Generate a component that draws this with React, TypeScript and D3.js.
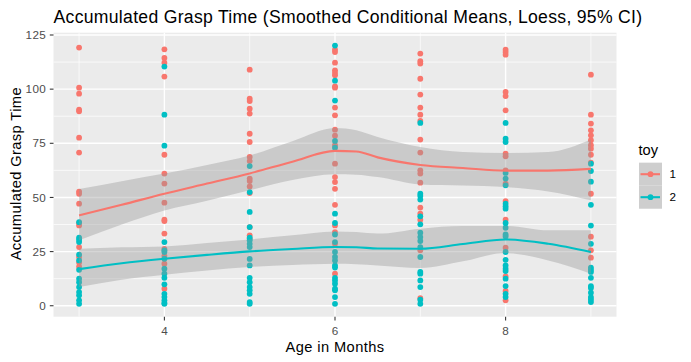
import React, { useRef, useEffect } from "react";
import * as d3 from "d3";

// ages on the x axis
const ageMonths = [3, 4, 5, 6, 7, 8, 9];

// accumulated grasp time per age, toy 1
const toy1Values: number[][] = [
  [119.2, 100.7, 97.9, 90.5, 89.8, 77.6, 70.7, 52.7, 51.7, 47.1, 38.2, 37.1, 27.1, 22.5, 20.0, 18.0],
  [118.4, 114.4, 112.2, 105.8, 69.7, 61.0, 56.4, 47.6, 39.7, 39.1, 33.3, 26.3, 23.0, 19.4, 7.9],
  [109.0, 95.6, 94.5, 91.0, 88.7, 79.4, 75.6, 68.7, 66.8, 58.7, 57.6, 55.1, 52.0, 36.3, 32.5, 31.0],
  [118.2, 117.1, 112.2, 108.7, 107.5, 106.4, 101.3, 100.7, 91.5, 87.9, 81.3, 78.5, 74.1, 65.6, 59.4, 57.1, 54.0, 46.6, 37.1, 34.0, 28.6, 14.8],
  [116.4, 112.9, 111.8, 104.8, 97.5, 91.5, 88.2, 85.3, 76.7, 70.7, 62.5, 61.0, 56.8, 45.3, 42.5, 39.7, 25.6, 3.5],
  [118.2, 117.1, 115.9, 98.7, 96.8, 90.2, 70.2, 69.0, 62.5, 56.4, 48.3, 39.7, 26.8, 13.5, 6.8, 2.5],
  [106.7, 88.2, 84.1, 81.0, 78.7, 76.4, 74.1, 72.5, 69.7, 66.1, 51.7, 31.9, 25.6, 22.2],
];

// accumulated grasp time per age, toy 2
const toy2Values: number[][] = [
  [38.6, 31.4, 30.5, 29.4, 23.6, 20.9, 16.6, 12.5, 10.9, 8.6, 6.3, 4.8, 2.5, 0.9],
  [110.4, 88.2, 73.9, 29.4, 25.6, 24.8, 21.7, 17.1, 14.8, 12.9, 9.9, 5.5, 4.0, 2.5, 1.3, 0.9],
  [64.5, 52.5, 43.3, 36.3, 31.4, 30.2, 28.6, 27.1, 21.6, 18.6, 12.9, 10.9, 8.6, 7.1, 5.5, 1.7, 0.9],
  [120.1, 103.9, 94.7, 76.1, 73.0, 42.5, 38.2, 32.9, 29.4, 24.8, 22.5, 20.9, 18.6, 17.6, 12.9, 11.7, 10.2, 7.9, 7.1, 4.0, 0.9],
  [84.4, 51.7, 50.7, 49.0, 41.3, 37.6, 33.7, 31.7, 29.9, 27.1, 22.5, 15.6, 14.8, 11.7, 8.6, 2.8, 0.9],
  [84.4, 77.1, 75.6, 61.3, 58.7, 55.6, 47.1, 45.9, 44.8, 38.2, 36.0, 32.9, 32.0, 24.8, 21.2, 18.6, 17.1, 16.0, 12.5, 9.1, 5.5, 4.0],
  [65.6, 62.2, 57.3, 46.6, 37.0, 28.6, 17.6, 16.6, 15.6, 12.9, 9.1, 8.2, 6.0, 4.0, 2.9, 1.7],
];

// loess fit and 95% band
const smoothAges = [3, 3.5, 4, 4.5, 5, 5.5, 6, 6.25, 6.5, 7, 7.5, 8, 8.5, 9];
const toy1Fit = [41.7, 46.6, 51.7, 56.4, 61.1, 66.5, 71.5, 71.2, 68.5, 65.0, 63.6, 62.4, 62.4, 63.2];
const toy1Lower = [30.2, 37.5, 44.0, 48.5, 53.3, 58.0, 60.7, 60.5, 59.4, 56.0, 55.5, 54.8, 52.8, 48.7];
const toy1Upper = [53.9, 57.5, 61.0, 65.0, 69.4, 76.0, 82.1, 81.0, 77.9, 73.3, 71.0, 70.5, 71.0, 76.8];
const toy2Fit = [16.9, 19.6, 21.7, 23.5, 25.1, 26.2, 27.1, 27.0, 26.4, 26.3, 28.5, 30.6, 28.6, 24.8];
const toy2Lower = [8.6, 12.0, 14.3, 16.3, 17.9, 18.8, 19.4, 19.2, 18.6, 17.4, 20.5, 24.3, 20.9, 14.8];
const toy2Upper = [26.3, 27.0, 27.4, 29.0, 30.6, 32.5, 34.3, 34.0, 33.3, 35.6, 36.8, 36.8, 34.8, 34.8];

const toyLabels = ["1", "2"];
const toyColors = ["#F8766D", "#00BFC4"];

const App = () => {
  const ref = useRef<SVGSVGElement>(null);

  useEffect(() => {
    document.body.style.margin = "0";
    const svg = d3.select(ref.current);
    svg.selectAll("*").remove();

    const width = 691;
    const height = 362;
    const left = 53.5, right = 616.5, top = 32.7, bottom = 316.7;
    const font = "'Liberation Sans', Arial, sans-serif";

    svg.attr("width", width).attr("height", height).style("display", "block");
    svg.append("rect").attr("width", width).attr("height", height).attr("fill", "#fff");

    const allY = [...toy1Values.flat(), ...toy2Values.flat()];
    const [yMin, yMax] = d3.extent(allY) as [number, number];
    const yPad = (yMax - yMin) * 0.05;
    const xPad = (ageMonths[ageMonths.length - 1] - ageMonths[0]) * 0.05;

    const x = d3.scaleLinear()
      .domain([ageMonths[0] - xPad, ageMonths[ageMonths.length - 1] + xPad])
      .range([left, right]);
    const y = d3.scaleLinear()
      .domain([yMin - yPad, yMax + yPad])
      .range([bottom, top]);

    // panel
    svg.append("rect")
      .attr("x", left).attr("y", top)
      .attr("width", right - left).attr("height", bottom - top)
      .attr("fill", "#EBEBEB");

    const yMajor = [0, 25, 50, 75, 100, 125];
    const yMinor = [12.5, 37.5, 62.5, 87.5, 112.5];
    const xMajor = [4, 6, 8];
    const xMinor = [3, 5, 7, 9];

    const grid = svg.append("g").attr("stroke", "#fff");
    yMinor.forEach((v) => {
      grid.append("line").attr("x1", left).attr("x2", right)
        .attr("y1", y(v)).attr("y2", y(v)).attr("stroke-width", 0.7);
    });
    xMinor.forEach((v) => {
      grid.append("line").attr("y1", top).attr("y2", bottom)
        .attr("x1", x(v)).attr("x2", x(v)).attr("stroke-width", 0.7);
    });
    yMajor.forEach((v) => {
      grid.append("line").attr("x1", left).attr("x2", right)
        .attr("y1", y(v)).attr("y2", y(v)).attr("stroke-width", 1.4);
    });
    xMajor.forEach((v) => {
      grid.append("line").attr("y1", top).attr("y2", bottom)
        .attr("x1", x(v)).attr("x2", x(v)).attr("stroke-width", 1.4);
    });

    // points, column by column
    const pts = svg.append("g");
    ageMonths.forEach((age, i) => {
      [toy1Values[i], toy2Values[i]].forEach((vals, t) => {
        vals.forEach((v) => {
          pts.append("circle")
            .attr("cx", x(age)).attr("cy", y(v)).attr("r", 2.9)
            .attr("fill", toyColors[t]);
        });
      });
    });

    // loess bands and lines
    const smoothSets = [
      { fit: toy1Fit, lo: toy1Lower, hi: toy1Upper },
      { fit: toy2Fit, lo: toy2Lower, hi: toy2Upper },
    ];
    const area = d3.area<number>()
      .x((_, i) => x(smoothAges[i]))
      .curve(d3.curveMonotoneX);
    const line = d3.line<number>()
      .x((_, i) => x(smoothAges[i]))
      .y((d) => y(d))
      .curve(d3.curveMonotoneX);

    smoothSets.forEach((s) => {
      svg.append("path")
        .attr("d", area.y0((_, i) => y(s.lo[i])).y1((_, i) => y(s.hi[i]))(s.fit))
        .attr("fill", "#999999")
        .attr("fill-opacity", 0.4);
    });
    smoothSets.forEach((s, t) => {
      svg.append("path")
        .attr("d", line(s.fit))
        .attr("fill", "none")
        .attr("stroke", toyColors[t])
        .attr("stroke-width", 2.1);
    });

    // axes
    const axisG = svg.append("g");
    yMajor.forEach((v) => {
      axisG.append("line").attr("x1", left - 3.7).attr("x2", left)
        .attr("y1", y(v)).attr("y2", y(v))
        .attr("stroke", "#333333").attr("stroke-width", 1.07);
      axisG.append("text").attr("x", left - 7.5).attr("y", y(v))
        .attr("dy", "0.35em").attr("text-anchor", "end")
        .style("font-family", font).style("font-size", "11.7px")
        .style("letter-spacing", "0.3px")
        .attr("fill", "#4D4D4D").text(v);
    });
    xMajor.forEach((v) => {
      axisG.append("line").attr("y1", bottom).attr("y2", bottom + 3.7)
        .attr("x1", x(v)).attr("x2", x(v))
        .attr("stroke", "#333333").attr("stroke-width", 1.07);
      axisG.append("text").attr("x", x(v)).attr("y", bottom + 18)
        .attr("text-anchor", "middle")
        .style("font-family", font).style("font-size", "11.7px")
        .attr("fill", "#4D4D4D").text(v);
    });

    svg.append("text")
      .attr("x", (left + right) / 2).attr("y", 351.5)
      .attr("text-anchor", "middle")
      .style("font-family", font).style("font-size", "14.67px")
      .style("letter-spacing", "0.4px")
      .text("Age in Months");

    svg.append("text")
      .attr("transform", `translate(21,${(top + bottom) / 2 - 1}) rotate(-90)`)
      .attr("text-anchor", "middle")
      .style("font-family", font).style("font-size", "14.67px")
      .style("letter-spacing", "0.4px")
      .text("Accumulated Grasp Time");

    svg.append("text")
      .attr("x", left).attr("y", 23)
      .style("font-family", font).style("font-size", "17.6px")
      .style("letter-spacing", "0.3px")
      .text("Accumulated Grasp Time (Smoothed Conditional Means, Loess, 95% CI)");

    // legend
    const lg = svg.append("g");
    lg.append("text").attr("x", 638.5).attr("y", 154.5)
      .style("font-family", font).style("font-size", "14.67px")
      .text("toy");
    toyLabels.forEach((lab, i) => {
      const ky = 162.7 + i * 23;
      lg.append("rect").attr("x", 639).attr("y", ky)
        .attr("width", 23).attr("height", 23).attr("fill", "#F2F2F2");
      lg.append("rect").attr("x", 639).attr("y", ky)
        .attr("width", 23).attr("height", 23)
        .attr("fill", "#999999").attr("fill-opacity", 0.4);
      lg.append("line").attr("x1", 640.5).attr("x2", 660)
        .attr("y1", ky + 11.5).attr("y2", ky + 11.5)
        .attr("stroke", toyColors[i]).attr("stroke-width", 2.1);
      lg.append("circle").attr("cx", 650.5).attr("cy", ky + 11.5).attr("r", 2.9)
        .attr("fill", toyColors[i]);
      lg.append("text").attr("x", 669.5).attr("y", ky + 11.5)
        .attr("dy", "0.35em")
        .style("font-family", font).style("font-size", "11.7px")
        .text(lab);
    });
  }, []);

  return <svg ref={ref}></svg>;
};

export default App;
